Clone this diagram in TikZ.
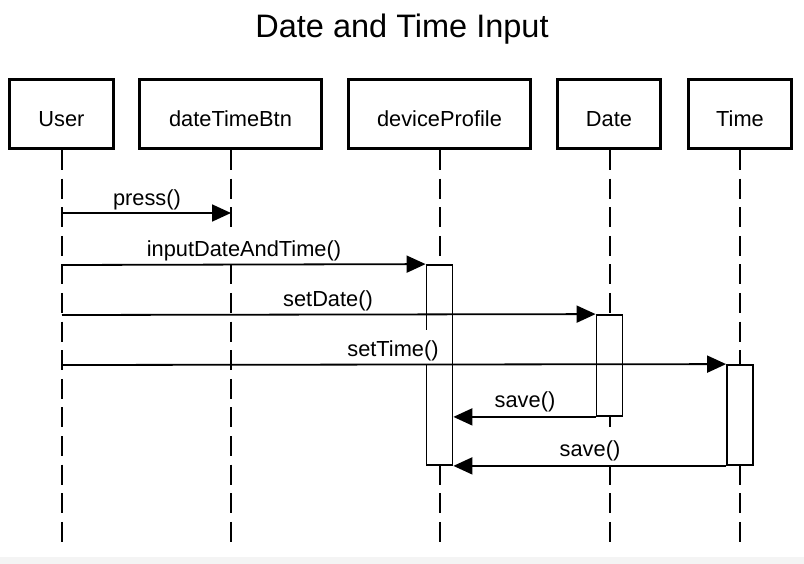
\documentclass[tikz,border=0pt]{standalone}
\usepackage{fontspec}
\setmainfont{Liberation Sans}
\usetikzlibrary{arrows.meta}
\definecolor{band}{HTML}{F4F4F4}
\begin{document}
\begin{tikzpicture}[x=1pt,y=-1pt,
  actor/.style={draw, line width=3pt, minimum height=69pt, inner sep=0pt,
    text height=24.5pt, text depth=0pt, font=\fontsize{21.8}{25}\selectfont},
  life/.style={line width=2pt, dash pattern=on 20pt off 8.6pt},
  act/.style={draw, fill=white, line width=1.8pt, inner sep=0pt, minimum width=26pt},
  msg/.style={line width=1.8pt, -{Triangle[length=19pt,width=17pt]}},
  lbl/.style={fill=white, inner sep=0pt, minimum height=34pt,
    text height=20pt, text depth=2pt, font=\fontsize{21.8}{25}\selectfont}]
\useasboundingbox (0,0) rectangle (804,564);
\fill[white] (0,0) rectangle (804,564);
\fill[band] (0,557) rectangle (804,564);

\node[font=\fontsize{32.5}{38}\selectfont] (title) at (402,29.5) {Date and Time Input};

% actors
\node[actor, minimum width=104pt] (user) at (61.5,114) {User};
\node[actor, minimum width=182pt] (btn)  at (230.5,114) {dateTimeBtn};
\node[actor, minimum width=182pt] (dp)   at (439.5,114) {deviceProfile};
\node[actor, minimum width=103pt] (date) at (609,114) {Date};
\node[actor, minimum width=103pt] (time) at (740,114) {Time};

% lifeline ends
\coordinate (userEnd) at (62,550);
\coordinate (btnEnd)  at (231,550);
\coordinate (dpEnd)   at (439.5,550);
\coordinate (dateEnd) at (609.5,550);
\coordinate (timeEnd) at (740,550);

\draw[life] (user.south -| userEnd) -- (userEnd);
\draw[life] (btn.south -| btnEnd) -- (btnEnd);
\draw[life] (dp.south -| dpEnd) -- (dpEnd);
\draw[life] (date.south -| dateEnd) -- (dateEnd);
\draw[life] (time.south -| timeEnd) -- (timeEnd);

% activations
\node[act, minimum height=200pt] (dpact)   at (439.5,365) {};
\node[act, minimum height=101pt] (dateact) at (609.5,365.5) {};
\node[act, minimum height=100pt] (timeact) at (740,415) {};

% message end points on lifelines
\coordinate (u1) at (62,213);
\coordinate (b1) at (231,213);
\coordinate (u2) at (62,265);
\coordinate (u3) at (62,315);
\coordinate (u4) at (62,365);

% labels
\node[lbl] (lpress) at (147,196.5) {press()};
\node[lbl] (linput) at (244,247.5) {inputDateAndTime()};
\node[lbl] (lsetd)  at (328,297.5) {setDate()};
\node[lbl] (lsett)  at (393,347.5) {setTime()};
\node[lbl] (lsave1) at (525,398.5) {save()};
\node[lbl] (lsave2) at (590,447.5) {save()};

% messages
\draw[msg] (u1) -- (b1);
\draw[msg] (u2) -- (dpact.north west);
\draw[msg] (u3) -- (dateact.north west);
\draw[msg] (u4) -- (timeact.north west);
\draw[msg] (dateact.south west) -- (dpact.east |- dateact.south west);
\draw[msg] (timeact.south west) -- (dpact.south east);
\end{tikzpicture}
\end{document}
